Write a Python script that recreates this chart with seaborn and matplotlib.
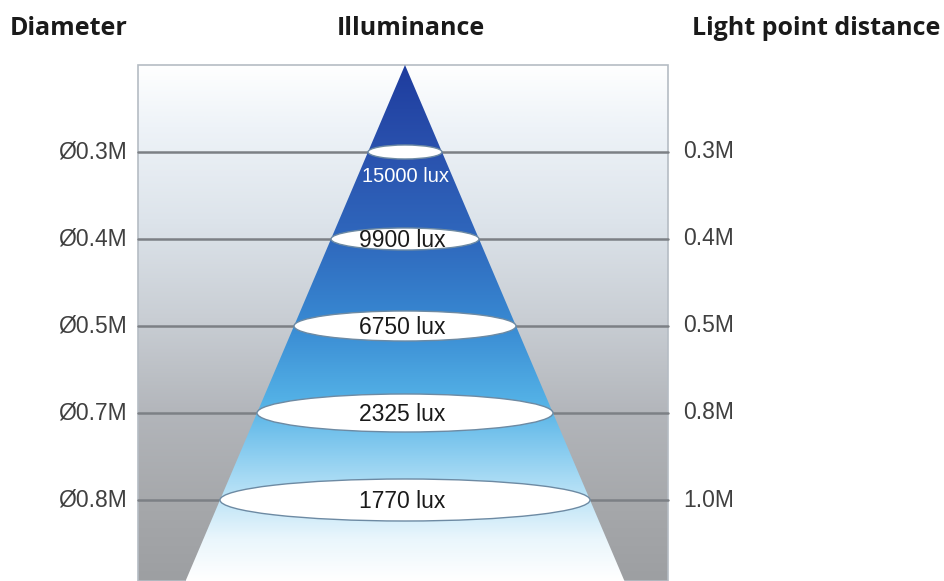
import numpy as np
import pandas as pd
import matplotlib
matplotlib.use("Agg")
import matplotlib.pyplot as plt
from matplotlib.colors import LinearSegmentedColormap
from matplotlib.patches import Polygon, Ellipse, Rectangle
import seaborn as sns

# data
diameters = ["Ø0.3M", "Ø0.4M", "Ø0.5M", "Ø0.7M", "Ø0.8M"]
lux_values = [15000, 9900, 6750, 2325, 1770]
distances = ["0.3M", "0.4M", "0.5M", "0.8M", "1.0M"]

sns.set_style("white")
plt.rcParams['font.family'] = ['Liberation Sans', 'DejaVu Sans']

fig = plt.figure(figsize=(9.45, 5.81), dpi=100)
ax = fig.add_axes([0, 0, 1, 1])

levels = np.arange(1, len(lux_values) + 1)
y_bot = 5.931
box_l, box_r = 138, 668
apex_x = 405
half_w = 37.0  # cone half width (px) per level

# background gradient inside the box
bg_cmap = LinearSegmentedColormap.from_list("bg", [
    (0.0, "#ffffff"), (0.12, "#eef3f8"), (0.3, "#dde4eb"), (0.5, "#c8cdd3"),
    (0.68, "#b2b5ba"), (0.85, "#a6a8ab"), (1.0, "#9d9fa2")])
grad = np.linspace(0, 1, 256).reshape(-1, 1)
ax.imshow(grad, cmap=bg_cmap, extent=(box_l, box_r, y_bot, 0), aspect="auto", zorder=0)
ax.add_patch(Rectangle((box_l, 0), box_r - box_l, y_bot, fill=False,
                       edgecolor="#b5bcc4", lw=1.2, zorder=1))

# horizontal level lines
lines = pd.DataFrame({
    "x": np.tile([box_l, box_r], len(levels)),
    "level": np.repeat(levels, 2),
})
sns.lineplot(data=lines, x="x", y="level", units="level", estimator=None,
             sort=False, color="#7c8085", lw=1.8, ax=ax, zorder=2, legend=False)

# cone with blue gradient
cone_cmap = LinearSegmentedColormap.from_list("cone", [
    (0.0, "#1e3c9e"), (0.17, "#2a52ae"), (0.34, "#2f68bd"), (0.5, "#3889d2"),
    (0.66, "#55b3e7"), (0.8, "#a6daf4"), (0.92, "#eaf6fc"), (1.0, "#ffffff")])
cone = Polygon([(apex_x, 0), (apex_x - half_w * y_bot, y_bot), (apex_x + half_w * y_bot, y_bot)],
               closed=True, facecolor="none", edgecolor="none")
ax.add_patch(cone)
im = ax.imshow(grad, cmap=cone_cmap, extent=(apex_x - half_w * y_bot, apex_x + half_w * y_bot, y_bot, 0),
               aspect="auto", zorder=3)
im.set_clip_path(cone)

# ellipses and labels
ell_h = [14, 22, 30, 38, 42]
for i, lv in enumerate(levels):
    w = 2 * half_w * lv
    ax.add_patch(Ellipse((apex_x, lv), w, ell_h[i] / 87.0, facecolor="white",
                         edgecolor="#6d8aa3", lw=1.0, zorder=4))
    if i == 0:
        ax.text(apex_x + 1, lv + 0.276, f"{lux_values[i]} lux", color="white", fontsize=14.5,
                ha="center", va="center", zorder=5)
    else:
        ax.text(apex_x - 3, lv + 0.02, f"{lux_values[i]} lux", color="#1a1a1a", fontsize=16.5,
                ha="center", va="center", zorder=5)
    ax.text(127, lv, diameters[i], color="#404040", fontsize=16.5, ha="right", va="center")
    ax.text(683, lv, distances[i], color="#404040", fontsize=16.5, ha="left", va="center")

# headers
hdr = dict(fontsize=18, fontweight="bold", color="#1a1a1a", va="center",
           family=["Open Sans", "DejaVu Sans"])
ax.text(10, -0.42, "Diameter", ha="left", **hdr)
ax.text(411, -0.42, "Illuminance", ha="center", **hdr)
ax.text(940, -0.42, "Light point distance", ha="right", **hdr)

ax.set_xlim(0, 945)
ax.set_ylim(y_bot, -0.747)
ax.axis("off")

fig.savefig("out.png", dpi=100)
